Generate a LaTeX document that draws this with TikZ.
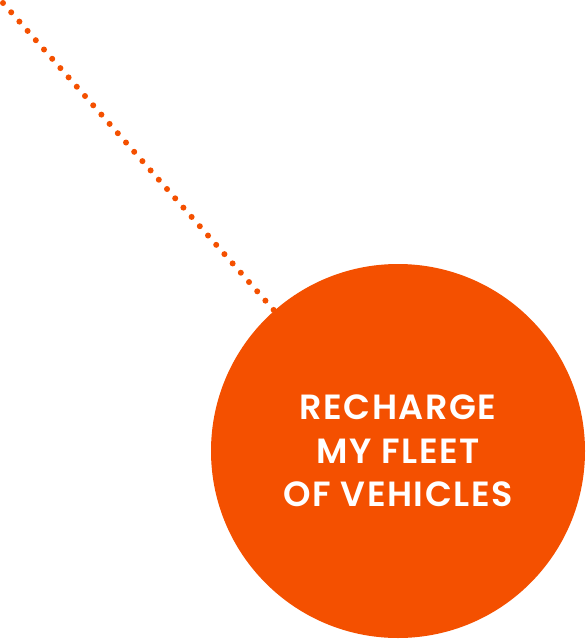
\documentclass[tikz,border=0pt]{standalone}
\usepackage{fontspec}
\newfontfamily\bubblefont{Poppins SemiBold}[LetterSpace=4.5]
\usepackage{tikz}
\usetikzlibrary{backgrounds}
\definecolor{fleetorange}{HTML}{F45000}

\begin{document}
\begin{tikzpicture}[x=1pt,y=-1pt,
    dotline/.style={fleetorange, line width=6pt, line cap=round, dash pattern=on 0pt off 12.4pt},
    bubble/.style={circle, fill=fleetorange, minimum size=374pt, inner sep=0pt,
      text=white, align=center, font=\bubblefont\fontsize{35}{43.5}\selectfont}]
                % Fix the canvas
                \useasboundingbox (0,0) rectangle (586,640);
                % Draw the circle with its text
                \coordinate (start) at (3,3);
                \node[bubble] (goal) at (398,451) {RECHARGE\\MY FLEET\\OF VEHICLES};
                % Draw the dotted leader behind it
                \begin{scope}[on background layer]
                \draw[dotline] (start) -- (goal);
                \end{scope}
            \end{tikzpicture}
\end{document}
